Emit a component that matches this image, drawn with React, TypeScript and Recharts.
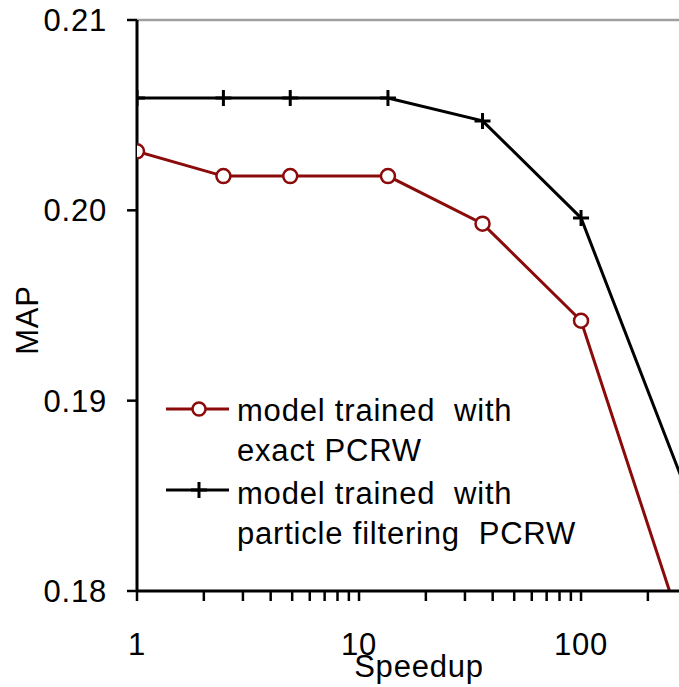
import { LineChart, Line, XAxis, YAxis, ReferenceLine } from "recharts";

const speedups = [1, 2.45, 4.9, 13.5, 36, 100, 300];
const exactPcrw = [0.2031, 0.2018, 0.2018, 0.2018, 0.1993, 0.1942, 0.1772];
const particlePcrw = [0.2059, 0.2059, 0.2059, 0.2059, 0.2047, 0.1996, 0.1852];

const xTicks = [1, 2, 3, 4, 5, 6, 7, 8, 9, 10, 20, 30, 40, 50, 60, 70, 80, 90, 100, 200, 300];
const xLabels = [1, 10, 100];
const yTicks = [0.18, 0.19, 0.2, 0.21];

const RED = "#8b0a0a";
const FONT = "'Liberation Sans', Arial, sans-serif";
const FS = 31;
const LS = 0.8;

const data = speedups.map((s, i) => ({
  speedup: s,
  exact: exactPcrw[i],
  particle: particlePcrw[i],
}));

const XTick = (props: any) => {
  const { x, payload } = props;
  if (!xLabels.includes(payload.value)) return <g />;
  return (
    <text x={x} y={655} textAnchor="middle" fontSize={FS} letterSpacing={LS} fontFamily={FONT} fill="#000">
      {payload.value}
    </text>
  );
};

const CircleDot = (props: any) => {
  const { cx, cy, index } = props;
  return <circle key={`c-${index}`} cx={cx} cy={cy} r={7} fill="#fff" stroke={RED} strokeWidth={2.5} />;
};

const PlusDot = (props: any) => {
  const { cx, cy, index } = props;
  return (
    <path
      key={`p-${index}`}
      d={`M${cx - 8},${cy}H${cx + 8}M${cx},${cy - 8}V${cy + 8}`}
      stroke="#000"
      strokeWidth={3}
      fill="none"
    />
  );
};

export default function App() {
  return (
    <div
      style={{
        position: "absolute",
        left: 0,
        top: 0,
        width: 679,
        height: 687,
        overflow: "hidden",
        background: "#fff",
        fontFamily: FONT,
      }}
    >
      <LineChart width={720} height={687} data={data} margin={{ top: 20, right: 19, bottom: 0, left: 0 }}>
        <ReferenceLine y={0.21} stroke="#a0a0a0" strokeWidth={2.5} />
        <XAxis
          dataKey="speedup"
          type="number"
          scale="log"
          domain={[1, 347]}
          ticks={xTicks}
          interval={0}
          height={96}
          tickSize={10}
          tickMargin={0}
          tick={<XTick />}
          axisLine={{ stroke: "#000", strokeWidth: 3 }}
          tickLine={{ stroke: "#000", strokeWidth: 2.5 }}
          allowDataOverflow
          label={{
            content: (p: any) => (
              <text
                x={p.viewBox.x + p.viewBox.width / 2}
                y={677}
                textAnchor="middle"
                fontSize={FS}
                letterSpacing={LS}
                fontFamily={FONT}
                fill="#000"
              >
                Speedup
              </text>
            ),
          }}
        />
        <YAxis
          type="number"
          domain={[0.18, 0.21]}
          ticks={yTicks}
          allowDataOverflow
          width={137}
          tickSize={10}
          tickMargin={20}
          tickFormatter={(v: number) => v.toFixed(2)}
          tick={{ fontSize: FS, letterSpacing: LS, fontFamily: FONT, fill: "#000" }}
          axisLine={{ stroke: "#000", strokeWidth: 3 }}
          tickLine={{ stroke: "#000", strokeWidth: 2.5 }}
          label={{
            content: () => (
              <text
                transform="translate(38,320) rotate(-90)"
                textAnchor="middle"
                fontSize={FS}
                letterSpacing={LS}
                fontFamily={FONT}
                fill="#000"
              >
                MAP
              </text>
            ),
          }}
        />
        <Line
          type="linear"
          dataKey="particle"
          stroke="#000"
          strokeWidth={3}
          dot={PlusDot}
          isAnimationActive={false}
        />
        <Line
          type="linear"
          dataKey="exact"
          stroke={RED}
          strokeWidth={3}
          dot={CircleDot}
          isAnimationActive={false}
        />
      </LineChart>

      <div
        style={{
          position: "absolute",
          left: 165,
          top: 391,
          fontSize: FS,
          letterSpacing: LS,
          lineHeight: "40px",
          color: "#000",
        }}
      >
        <div style={{ display: "flex" }}>
          <svg width={66} height={40} style={{ flex: "none" }}>
            <line x1={1} y1={18} x2={64} y2={18} stroke={RED} strokeWidth={3} />
            <circle cx={34} cy={18} r={6.5} fill="#fff" stroke={RED} strokeWidth={2.5} />
          </svg>
          <div style={{ marginLeft: 6, whiteSpace: "pre" }}>{"model trained  with\nexact PCRW"}</div>
        </div>
        <div style={{ display: "flex", marginTop: 3 }}>
          <svg width={66} height={40} style={{ flex: "none" }}>
            <line x1={1} y1={16} x2={64} y2={16} stroke="#000" strokeWidth={3} />
            <path d="M26,16H42M34,8V24" stroke="#000" strokeWidth={3} fill="none" />
          </svg>
          <div style={{ marginLeft: 6, whiteSpace: "pre" }}>{"model trained  with\nparticle filtering  PCRW"}</div>
        </div>
      </div>
    </div>
  );
}
